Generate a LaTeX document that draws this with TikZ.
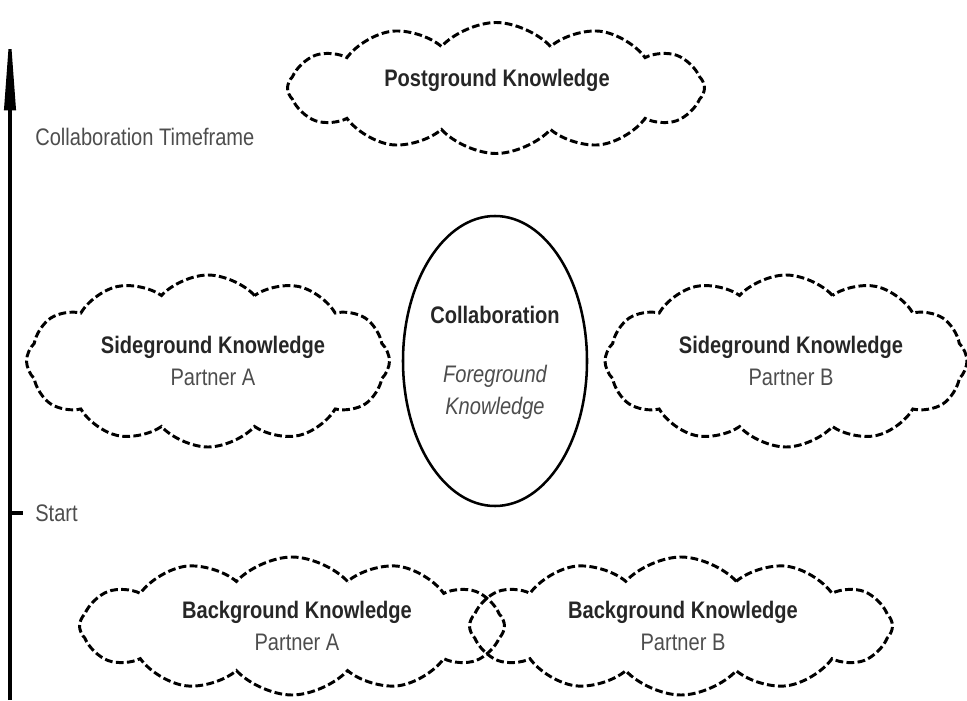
\documentclass[tikz,border=0pt]{standalone}
\usepackage{fontspec}
\setmainfont[FakeStretch=0.84]{Liberation Sans}
\usepackage{tikz}
\usetikzlibrary{shapes}
\usetikzlibrary{arrows.meta}
\usetikzlibrary{positioning}
\definecolor{lbl}{HTML}{262626}
\definecolor{sub}{HTML}{4D4D4D}

\begin{document}
\begin{tikzpicture}[
  x=0.025cm, y=0.025cm,
  know/.style 2 args={
    cloud,
    cloud puffs=12,
    cloud puff arc=95,
    cloud ignores aspect,
    draw=black,
    line width=2.1pt,
    dash pattern=on 5.5pt off 2.4pt,
    minimum width=#1*0.025cm,
    minimum height=#2*0.025cm,
    inner sep=0pt},
  collab/.style={
    ellipse,
    draw=black,
    line width=1.8pt,
    minimum width=184*0.025cm,
    minimum height=290*0.025cm},
  txt/.style={
    font=\fontsize{17}{23}\selectfont,
    align=center,
    text=sub,
    inner sep=0pt},
  head/.style={
    txt, font=\fontsize{17}{23}\selectfont\bfseries, text=lbl},
  time/.style={
    line width=2.2pt,
    -{Triangle[length=60pt,width=8pt]}},
]

  \useasboundingbox (0,0) rectangle (967,700);

  % Timeframe axis
  \coordinate (t_bot) at (10,0);
  \coordinate (t_top) at (10,674);
  \coordinate (t_start) at (10,187);
  \draw[time] (t_bot) -- (t_top);
  \draw[line width=2.2pt] (t_start) -- ++(13,0);
  \node[txt, anchor=west] (t_lbl) at (35,563) {Collaboration Timeframe};
  \node[txt, anchor=west] (start_lbl) at (35,187) {Start};

  % Postground knowledge
  \node[know={417}{131}] (post) at (496,612) {};
  \node[head] at (497,620) {Postground Knowledge};

  % Sideground knowledge of both partners
  \node[know={363}{172}] (side_a) at (208,339) {};
  \node[txt] at (213,339) {\textcolor{lbl}{\bfseries Sideground Knowledge}\\Partner A};

  \node[know={362}{172}] (side_b) at (786,339) {};
  \node[txt] at (791,339) {\textcolor{lbl}{\bfseries Sideground Knowledge}\\Partner B};

  % Collaboration itself
  \node[collab] (collab) at (495,339) {};
  \node[head] at (495,385) {Collaboration};
  \node[txt, font=\fontsize{17}{23}\selectfont\itshape] at (495,307.5) {Foreground\\Knowledge};

  % Background knowledge of both partners
  \node[know={425}{138}] (back_a) at (292,74) {};
  \node[txt] at (297,74) {\textcolor{lbl}{\bfseries Background Knowledge}\\Partner A};

  \node[know={423}{138}] (back_b) at (681,74) {};
  \node[txt] at (683,74) {\textcolor{lbl}{\bfseries Background Knowledge}\\Partner B};

\end{tikzpicture}
\end{document}
